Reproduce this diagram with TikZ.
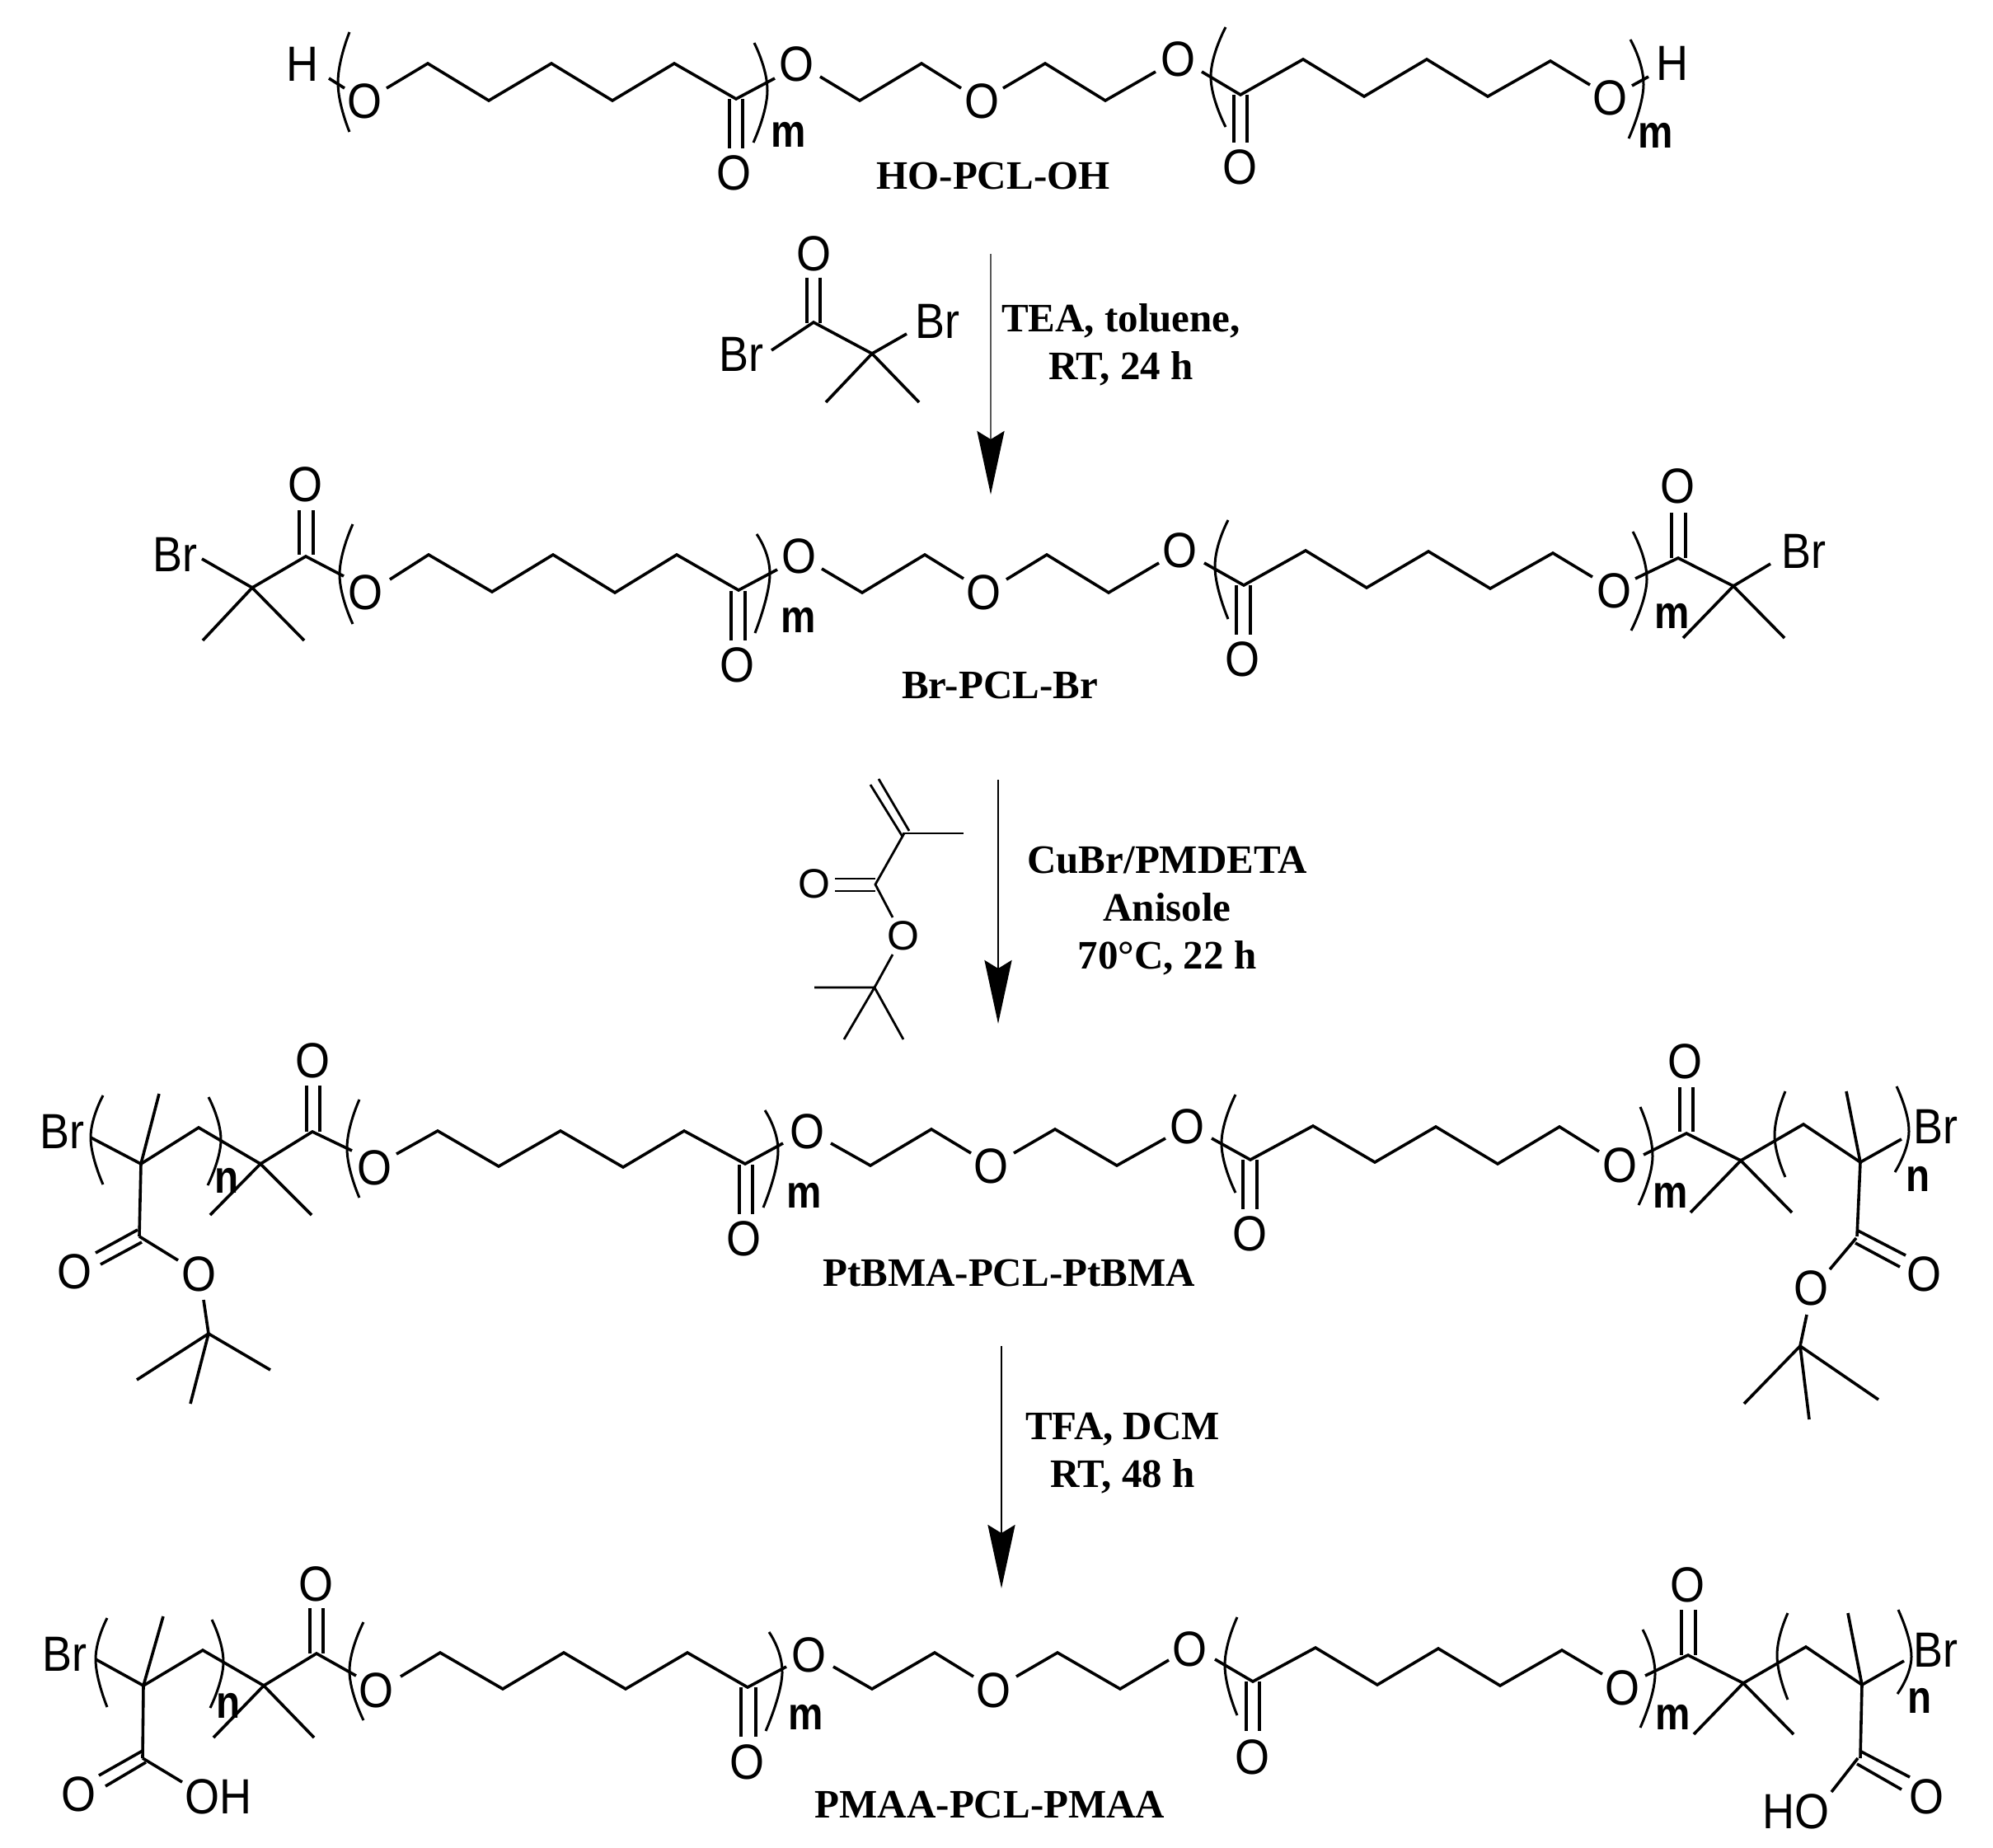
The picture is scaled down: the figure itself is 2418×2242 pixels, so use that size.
\documentclass[tikz,border=0pt]{standalone}
\usepackage{fontspec}
\usetikzlibrary{arrows.meta}
\newfontfamily\atomfam[FakeStretch=0.9]{Liberation Sans}
\newfontfamily\smallfam{Liberation Sans}
\newfontfamily\idxfam[FakeStretch=0.85]{Liberation Sans Bold}
\newfontfamily\capfam{Liberation Serif Bold}
\tikzset{
  bond/.style={line width=3.6pt,line join=miter,line cap=butt},
  thinbond/.style={line width=2.8pt,line join=miter,line cap=butt},
  brk/.style={line width=3pt,smooth,tension=0.8},
  atom/.style={inner sep=0pt,font=\atomfam\fontsize{60}{60}\selectfont},
  smallatom/.style={inner sep=0pt,font=\smallfam\fontsize{50}{50}\selectfont},
  idx/.style={inner sep=0pt,font=\idxfam\fontsize{56}{56}\selectfont},
  cmpd/.style={inner sep=0pt,anchor=base,font=\capfam\fontsize{49}{58}\selectfont},
  cond/.style={inner sep=0pt,anchor=base,align=center,font=\capfam\fontsize{49}{58}\selectfont},
  rxn/.style={-{Stealth[length=77pt,width=33pt,inset=10pt,color=black]},line width=2.8pt}
}
\newcommand{\brkt}[3]{\draw[brk] plot coordinates {#1 #2 #3};}
\begin{document}
\begin{tikzpicture}[x=1pt,y=-1pt]
\useasboundingbox (0,0) rectangle (2418,2242);

% ---------- Row 1: HO-PCL-OH ----------
\node[atom] (r1H1) at (367,78) {H};
\node[atom] (r1O1) at (442,123) {O};
\node[atom] (r1O2) at (890,210) {O};
\node[atom] (r1O3) at (966,78) {O};
\node[atom] (r1O4) at (1191,123) {O};
\node[atom] (r1O5) at (1429,72) {O};
\node[atom] (r1O6) at (1504,203) {O};
\node[atom] (r1O7) at (1953,119) {O};
\node[atom] (r1H2) at (2029,77) {H};
\node[idx] (r1m1) at (957,163) {m};
\node[idx] (r1m2) at (2009,164) {m};
\node[cmpd] (r1cap) at (1205,230) {HO-PCL-OH};
\draw[bond] (399,95)--(418,107);
\draw[bond] (469,107)--(519,77)--(593,122)--(669,77)--(743,122)--(818,77)--(893,120)--(940,95);
\draw[bond] (885,120)--(885,180) (901,120)--(901,180);
\draw[bond] (995,93)--(1043,122)--(1118,77)--(1166,107);
\draw[bond] (1217,107)--(1268,77)--(1341,122)--(1402,87);
\draw[bond] (1458,87)--(1505,115)--(1581,72)--(1655,117)--(1731,72)--(1805,117)--(1881,74)--(1929,103);
\draw[bond] (1497,115)--(1497,173) (1513,115)--(1513,173);
\draw[bond] (1980,104)--(2000,93);
\brkt{(424,39)}{(410,100)}{(424,160)}
\brkt{(915,52)}{(931,110)}{(914,173)}
\brkt{(1487,33)}{(1469,93)}{(1487,154)}
\brkt{(1978,48)}{(1994,103)}{(1976,168)}

% ---------- Reagent 1 ----------
\node[atom] (a1O) at (987,308) {O};
\node[atom] (a1Br1) at (899,430) {Br};
\node[atom] (a1Br2) at (1137,390) {Br};
\draw[bond] (979,337)--(979,392) (995,337)--(995,392);
\draw[bond] (936,425)--(987,391)--(1058,429)--(1100,405);
\draw[bond] (1002,488)--(1058,429)--(1115,488);
\coordinate (a1s) at (1202,308);
\coordinate (a1e) at (1202,600);
\draw[rxn,black!65] (a1s)--(a1e);
\node[cond] (c1) at (1360,460) {TEA, toluene,\\RT, 24 h};

% ---------- Row 2: Br-PCL-Br ----------
\node[atom] (r2Br1) at (212,673) {Br};
\node[atom] (r2O0) at (370,588) {O};
\node[atom] (r2O1) at (443,719) {O};
\node[atom] (r2O2) at (894,807) {O};
\node[atom] (r2O3) at (969,675) {O};
\node[atom] (r2O4) at (1193,719) {O};
\node[atom] (r2O5) at (1431,668) {O};
\node[atom] (r2O6) at (1507,800) {O};
\node[atom] (r2O7) at (1958,717) {O};
\node[atom] (r2O8) at (2035,590) {O};
\node[atom] (r2Br2) at (2188,669) {Br};
\node[idx] (r2m1) at (969,752) {m};
\node[idx] (r2m2) at (2029,747) {m};
\node[cmpd] (r2cap) at (1213,847) {Br-PCL-Br};
\draw[bond] (245,678)--(306,713)--(371,675)--(417,699);
\draw[bond] (246,777)--(306,713)--(369,777);
\draw[bond] (363,619)--(363,673) (380,619)--(380,673);
\draw[bond] (473,703)--(520,673)--(597,718)--(671,673)--(746,719)--(821,673)--(896,716)--(943,691);
\draw[bond] (887,717)--(887,777) (904,717)--(904,777);
\draw[bond] (997,690)--(1046,719)--(1122,673)--(1169,702);
\draw[bond] (1221,703)--(1270,673)--(1345,719)--(1406,683);
\draw[bond] (1461,683)--(1509,710)--(1584,668)--(1658,713)--(1733,669)--(1808,714)--(1884,671)--(1932,700);
\draw[bond] (1500,710)--(1500,770) (1517,710)--(1517,770);
\draw[bond] (1984,702)--(2036,677)--(2103,711)--(2148,684);
\draw[bond] (2042,774)--(2103,711)--(2165,774);
\draw[bond] (2028,622)--(2028,677) (2045,622)--(2045,677);
\brkt{(428,636)}{(412,697)}{(428,757)}
\brkt{(918,648)}{(934,697)}{(916,768)}
\brkt{(1490,631)}{(1474,687)}{(1490,751)}
\brkt{(1981,645)}{(1998,703)}{(1979,765)}

% ---------- Reagent 2 ----------
\node[smallatom] (a2O1) at (988,1072) {O};
\node[smallatom] (a2O2) at (1096,1135) {O};
\draw[thinbond] (1056,952)--(1095,1015) (1066,945)--(1103,1008);
\draw[thinbond] (1095,1011)--(1169,1011);
\draw[thinbond] (1097,1011)--(1062,1073)--(1083,1113);
\draw[thinbond] (1013,1066)--(1062,1066) (1013,1081)--(1062,1081);
\draw[thinbond] (1083,1158)--(1061,1198);
\draw[thinbond] (988,1198)--(1061,1198) (1024,1261)--(1061,1198)--(1096,1261);
\coordinate (a2s) at (1211,946);
\coordinate (a2e) at (1211,1242);
\draw[rxn] (a2s)--(a2e);
\node[cond] (c2) at (1416,1175) {CuBr/PMDETA\\Anisole\\70\textdegree C, 22 h};

% ---------- Row 3: PtBMA-PCL-PtBMA ----------
\node[atom] (r3Br1) at (75,1373) {Br};
\node[atom] (r3O1) at (91,1543) {O};
\node[atom] (r3O2) at (241,1546) {O};
\node[atom] (r3O3) at (379,1287) {O};
\node[atom] (r3O4) at (454,1417) {O};
\node[atom] (r3O5) at (902,1503) {O};
\node[atom] (r3O6) at (979,1373) {O};
\node[atom] (r3O7) at (1202,1415) {O};
\node[atom] (r3O8) at (1440,1367) {O};
\node[atom] (r3O9) at (1516,1497) {O};
\node[atom] (r3O10) at (1965,1414) {O};
\node[atom] (r3O11) at (2044,1288) {O};
\node[atom] (r3O12) at (2197,1563) {O};
\node[atom] (r3O13) at (2334,1546) {O};
\node[atom] (r3Br2) at (2348,1367) {Br};
\node[idx] (r3n1) at (275,1432) {n};
\node[idx] (r3m1) at (976,1450) {m};
\node[idx] (r3m2) at (2027,1450) {m};
\node[idx] (r3n2) at (2327,1430) {n};
\node[cmpd] (r3cap) at (1224,1560) {PtBMA-PCL-PtBMA};
\draw[bond] (110,1380)--(171,1412)--(241,1368)--(316,1412)--(379,1373)--(427,1396);
\draw[bond] (193,1327)--(171,1412)--(169,1500);
\draw[bond] (167,1492)--(116,1520) (172,1507)--(122,1534);
\draw[bond] (169,1500)--(216,1529);
\draw[bond] (247,1577)--(253,1618);
\draw[bond] (166,1674)--(253,1618)--(328,1662) (253,1618)--(231,1703);
\draw[bond] (255,1474)--(316,1412)--(378,1474);
\draw[bond] (372,1317)--(372,1373) (388,1317)--(388,1373);
\draw[bond] (481,1400)--(531,1372)--(605,1415)--(680,1372)--(756,1416)--(830,1372)--(904,1412)--(950,1387);
\draw[bond] (897,1413)--(897,1473) (913,1413)--(913,1473);
\draw[bond] (1008,1387)--(1056,1414)--(1130,1370)--(1178,1399);
\draw[bond] (1230,1399)--(1280,1370)--(1355,1414)--(1414,1381);
\draw[bond] (1470,1381)--(1517,1407)--(1593,1366)--(1668,1410)--(1742,1367)--(1817,1412)--(1892,1367)--(1940,1397);
\draw[bond] (1508,1407)--(1508,1467) (1525,1407)--(1525,1467);
\draw[bond] (1994,1401)--(2046,1375)--(2112,1408)--(2188,1364)--(2257,1410)--(2307,1382);
\draw[bond] (2051,1471)--(2112,1408)--(2174,1471);
\draw[bond] (2038,1319)--(2038,1373) (2054,1319)--(2054,1373);
\draw[bond] (2240,1324)--(2257,1410)--(2253,1500);
\draw[bond] (2254,1493)--(2312,1523) (2251,1508)--(2305,1537);
\draw[bond] (2252,1502)--(2220,1540);
\draw[bond] (2192,1595)--(2184,1633);
\draw[bond] (2116,1703)--(2184,1633)--(2279,1698) (2184,1633)--(2195,1722);
\brkt{(125,1329)}{(110,1380)}{(125,1437)}
\brkt{(253,1331)}{(268,1383)}{(252,1438)}
\brkt{(436,1334)}{(421,1393)}{(436,1453)}
\brkt{(928,1347)}{(944,1397)}{(926,1465)}
\brkt{(1499,1328)}{(1482,1387)}{(1499,1447)}
\brkt{(1990,1343)}{(2005,1403)}{(1988,1462)}
\brkt{(2166,1324)}{(2153,1377)}{(2166,1428)}
\brkt{(2301,1318)}{(2316,1373)}{(2299,1422)}

% ---------- Arrow 3 ----------
\coordinate (a3s) at (1215,1633);
\coordinate (a3e) at (1215,1927);
\draw[rxn] (a3s)--(a3e);
\node[cond] (c3) at (1362,1804) {TFA, DCM\\RT, 48 h};

% ---------- Row 4: PMAA-PCL-PMAA ----------
\node[atom] (r4Br1) at (78,2007) {Br};
\node[atom] (r4O1) at (96,2177) {O};
\node[atom] (r4OH1) at (265,2180) {OH};
\node[atom] (r4O3) at (383,1922) {O};
\node[atom] (r4O4) at (456,2051) {O};
\node[atom] (r4O5) at (906,2138) {O};
\node[atom] (r4O6) at (981,2008) {O};
\node[atom] (r4O7) at (1205,2051) {O};
\node[atom] (r4O8) at (1443,2001) {O};
\node[atom] (r4O9) at (1519,2132) {O};
\node[atom] (r4O10) at (1968,2048) {O};
\node[atom] (r4O11) at (2047,1923) {O};
\node[atom] (r4OH2) at (2179,2198) {HO};
\node[atom] (r4O13) at (2337,2180) {O};
\node[atom] (r4Br2) at (2348,2002) {Br};
\node[idx] (r4n1) at (277,2069) {n};
\node[idx] (r4m1) at (978,2083) {m};
\node[idx] (r4m2) at (2030,2083) {m};
\node[idx] (r4n2) at (2329,2063) {n};
\node[cmpd] (r4cap) at (1201,2205) {PMAA-PCL-PMAA};
\draw[bond] (116,2013)--(174,2045)--(246,2002)--(320,2045)--(384,2006)--(432,2033);
\draw[bond] (198,1961)--(174,2045)--(173,2133);
\draw[bond] (173,2124)--(120,2154) (177,2138)--(128,2167);
\draw[bond] (173,2133)--(221,2162);
\draw[bond] (259,2108)--(320,2045)--(381,2108);
\draw[bond] (376,1951)--(376,2006) (392,1951)--(392,2006);
\draw[bond] (486,2034)--(534,2005)--(610,2049)--(684,2005)--(759,2049)--(834,2005)--(907,2047)--(954,2022);
\draw[bond] (899,2047)--(899,2107) (917,2047)--(917,2107);
\draw[bond] (1011,2022)--(1058,2049)--(1134,2005)--(1181,2034);
\draw[bond] (1233,2034)--(1283,2005)--(1359,2049)--(1418,2014);
\draw[bond] (1474,2013)--(1520,2040)--(1596,1999)--(1671,2044)--(1745,2000)--(1820,2045)--(1895,2002)--(1944,2031);
\draw[bond] (1512,2040)--(1512,2100) (1528,2040)--(1528,2100);
\draw[bond] (1996,2033)--(2048,2008)--(2115,2042)--(2191,1998)--(2259,2044)--(2310,2015);
\draw[bond] (2055,2104)--(2115,2042)--(2176,2104);
\draw[bond] (2040,1953)--(2040,2008) (2057,1953)--(2057,2008);
\draw[bond] (2242,1957)--(2259,2044)--(2257,2133);
\draw[bond] (2258,2125)--(2317,2156) (2253,2140)--(2307,2171);
\draw[bond] (2254,2133)--(2222,2174);
\brkt{(130,1963)}{(116,2013)}{(130,2071)}
\brkt{(257,1965)}{(271,2017)}{(255,2072)}
\brkt{(441,1968)}{(424,2027)}{(441,2087)}
\brkt{(933,1980)}{(949,2030)}{(929,2100)}
\brkt{(1501,1962)}{(1486,2020)}{(1501,2081)}
\brkt{(1993,1977)}{(2008,2032)}{(1990,2096)}
\brkt{(2169,1957)}{(2156,2008)}{(2169,2062)}
\brkt{(2303,1953)}{(2319,2010)}{(2302,2055)}
\end{tikzpicture}
\end{document}
